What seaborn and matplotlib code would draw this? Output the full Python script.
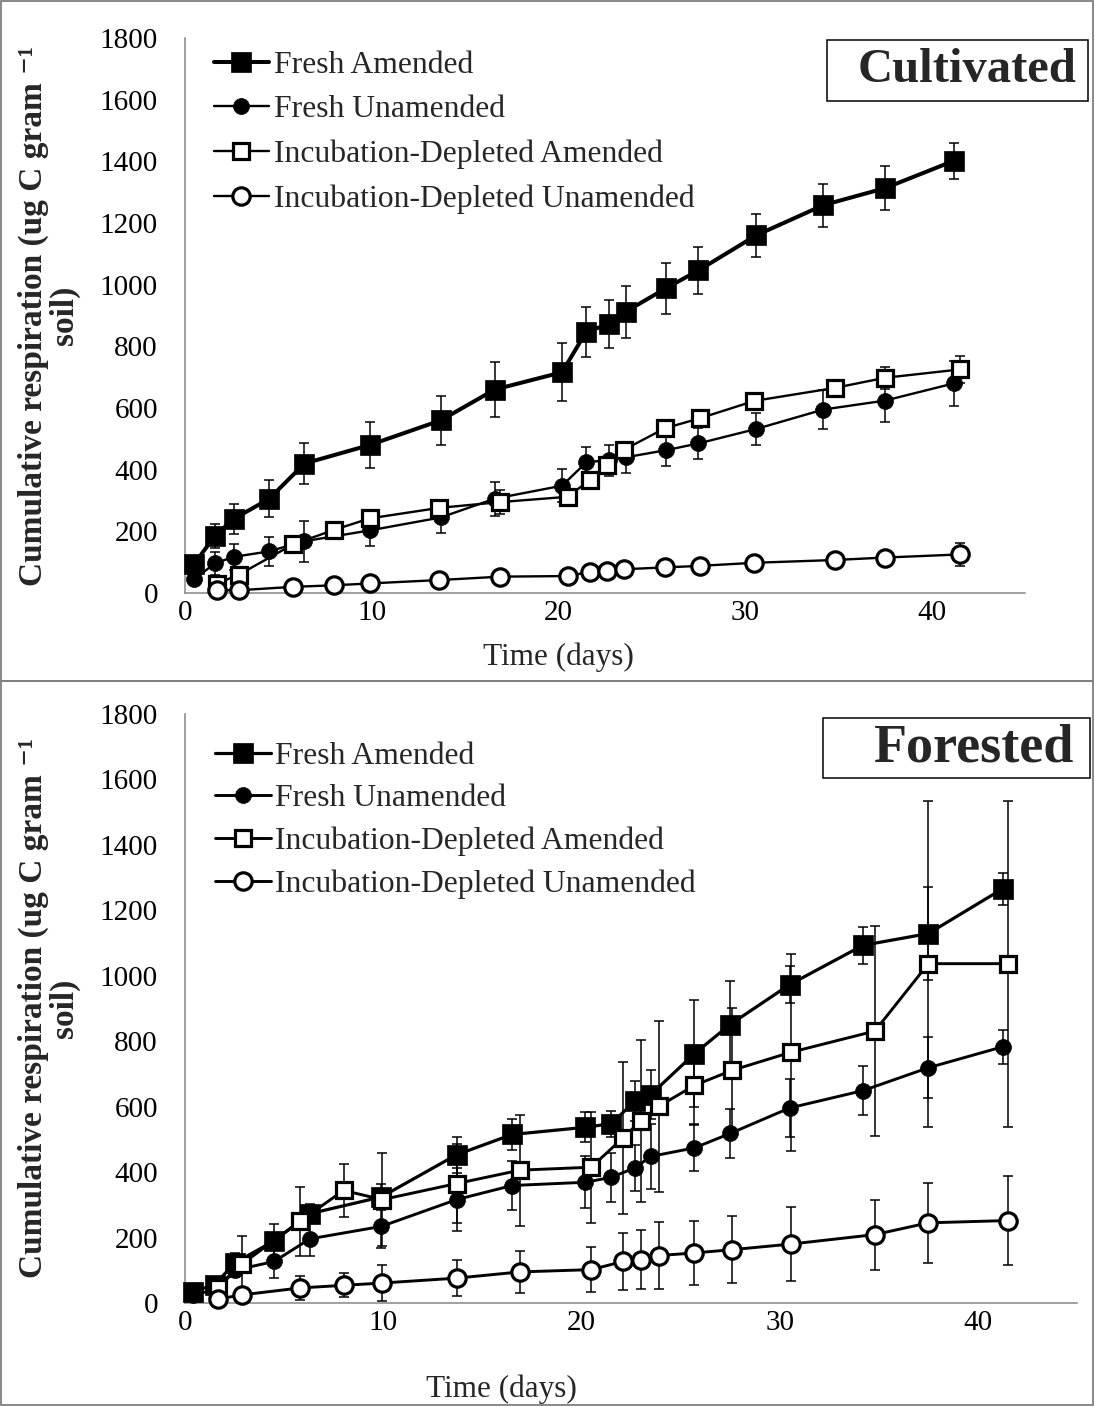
import matplotlib
matplotlib.use("Agg")
import matplotlib.pyplot as plt
from matplotlib.patches import Rectangle
import seaborn as sns

# ---------------- Cultivated soil ----------------
cult_fresh_days = [0.5, 1.6, 2.6, 4.5, 6.4, 9.9, 13.7, 16.6, 20.2, 21.5, 22.7, 23.6,
                   25.75, 27.5, 30.6, 34.2, 37.5, 41.2]
cult_fresh_amended = [95, 185, 240, 305, 420, 480, 560, 660, 716, 848, 871, 912,
                      988, 1046, 1160, 1258, 1313, 1402]
cult_fresh_amended_err = [15, 40, 50, 60, 68, 74, 79, 90, 94, 81, 78, 84,
                          83, 77, 70, 70, 71, 59]
cult_fresh_unamended = [45, 96, 117, 135, 168, 203, 245, 306, 348, 424, 431, 440,
                        463, 485, 532, 595, 624, 680]
cult_fresh_unamended_err = [10, 38, 41, 47, 66, 49, 52, 55, 54, 50, 50, 50,
                            52, 51, 53, 63, 71, 73]

cult_depl_days = [1.7, 2.9, 5.8, 8.0, 9.9, 13.6, 16.9, 20.5, 21.7, 22.6, 23.5,
                  25.7, 27.6, 30.5, 34.8, 37.5, 41.5]
cult_depl_amended = [30, 60, 158, 205, 242, 276, 295, 312, 367, 415, 464,
                     534, 567, 623, 665, 698, 725]
cult_depl_amended_err = [10, 15, 15, 15, 15, 20, 38, 15, 20, 20, 20,
                         15, 15, 15, 20, 36, 44]
cult_depl_unamended = [9, 9, 20, 25, 31, 42, 53, 55, 69, 72, 77,
                       83, 88, 98, 107, 115, 125]
cult_depl_unamended_err = [5, 5, 5, 6, 8, 8, 10, 10, 10, 10, 10,
                           10, 12, 12, 15, 15, 38]

# ---------------- Forested soil ----------------
for_fresh_days = [0.4, 1.5, 2.5, 4.5, 6.3, 9.9, 13.7, 16.5, 20.2, 21.5, 22.7, 23.5,
                  25.7, 27.5, 30.5, 34.2, 37.5, 41.25]
for_fresh_amended = [35, 56, 122, 190, 273, 324, 453, 515, 537, 548, 617, 637,
                     762, 851, 973, 1093, 1129, 1266]
for_fresh_amended_err = [8, 12, 30, 52, 30, 40, 55, 48, 46, 40, 60, 75,
                         163, 132, 56, 57, 142, 49]
for_fresh_unamended = [25, 40, 100, 127, 196, 234, 316, 359, 369, 384, 413, 448,
                       474, 518, 596, 649, 719, 783]
for_fresh_unamended_err = [5, 10, 20, 51, 53, 66, 97, 75, 79, 75, 70, 100,
                           72, 74, 89, 75, 93, 52]

for_depl_days = [1.65, 2.9, 5.8, 8.0, 9.95, 13.7, 16.9, 20.5, 22.1, 23.0, 23.9,
                 25.7, 27.6, 30.55, 34.8, 37.5, 41.5]
for_depl_amended = [46, 120, 250, 344, 316, 365, 406, 415, 505, 557, 601,
                    665, 711, 766, 831, 1037, 1037]
for_depl_amended_err = [15, 86, 105, 80, 141, 120, 170, 170, 233, 247, 262,
                        120, 190, 300, 320, 498, 498]
for_depl_unamended = [12, 25, 46, 54, 61, 76, 95, 102, 127, 132, 145,
                      153, 163, 180, 209, 245, 252]
for_depl_unamended_err = [5, 10, 38, 37, 55, 56, 65, 68, 88, 90, 102,
                          97, 103, 113, 107, 122, 135]

series_names = ["Fresh Amended", "Fresh Unamended",
                "Incubation-Depleted Amended", "Incubation-Depleted Unamended"]
y_ticks = list(range(0, 1801, 200))
x_ticks = [0, 10, 20, 30, 40]
y_label = "Cumulative respiration (ug C gram \u207b\u00b9\nsoil)"

sns.set_theme(style="white")
plt.rcParams["font.family"] = ["Liberation Serif", "DejaVu Serif"]

AXIS_GREY = "#868686"

marker_styles = {
    "Fresh Amended": dict(marker="s", markersize=15, markerfacecolor="black", markeredgewidth=0.5),
    "Fresh Unamended": dict(marker="o", markersize=11.5, markerfacecolor="black", markeredgewidth=0.5),
    "Incubation-Depleted Amended": dict(marker="s", markersize=12, markerfacecolor="white", markeredgewidth=2.3),
    "Incubation-Depleted Unamended": dict(marker="o", markersize=12.5, markerfacecolor="white", markeredgewidth=2.3),
}

fig = plt.figure(figsize=(10.95, 14.06), dpi=100)

W, H = 1095.0, 1406.0


def px_axes(left, top, right, bottom):
    return fig.add_axes([left / W, 1 - bottom / H, (right - left) / W, (bottom - top) / H])


def draw_panel(ax, series, linewidths, legend_anchor, legend_spacing, xlabel_pos, ylabel_pos):
    for i, (name, (days, vals, errs)) in enumerate(zip(series_names, series)):
        ax.errorbar(days, vals, yerr=errs, fmt="none", ecolor="black",
                    elinewidth=1.1, capsize=3.3, capthick=1.1, zorder=2 + i)
        sns.lineplot(x=days, y=vals, ax=ax, color="black", sort=False,
                     linewidth=linewidths[i], markeredgecolor="black",
                     label=name, clip_on=False, zorder=3 + i,
                     **marker_styles[name])
    ax.set_xlim(0, 45)
    ax.set_ylim(0, 1800)
    ax.set_xticks(x_ticks)
    ax.set_yticks(y_ticks)
    for side in ("top", "right"):
        ax.spines[side].set_visible(False)
    for side in ("left", "bottom"):
        ax.spines[side].set_color(AXIS_GREY)
        ax.spines[side].set_linewidth(1.1)
    ax.tick_params(axis="both", direction="out", length=6.5, width=1.1,
                   color=AXIS_GREY, labelsize=21, labelcolor="black")
    ax.tick_params(axis="y", pad=13)
    ax.tick_params(axis="x", pad=-1.5)
    ax.set_xlabel("Time (days)", fontsize=22.5)
    ax.xaxis.set_label_coords(*xlabel_pos)
    ax.set_ylabel(y_label, fontsize=24, fontweight="bold", linespacing=1.0)
    ax.yaxis.set_label_coords(*ylabel_pos)
    ax.legend(loc="upper left", bbox_to_anchor=legend_anchor, frameon=False,
              fontsize=22.8, handlelength=1.75, handletextpad=0.15,
              labelspacing=legend_spacing, borderaxespad=0, borderpad=0)
    ax.grid(False)
    ax.set_facecolor("white")


ax_top = px_axes(185, 38, 1025, 593)
draw_panel(
    ax_top,
    [(cult_fresh_days, cult_fresh_amended, cult_fresh_amended_err),
     (cult_fresh_days, cult_fresh_unamended, cult_fresh_unamended_err),
     (cult_depl_days, cult_depl_amended, cult_depl_amended_err),
     (cult_depl_days, cult_depl_unamended, cult_depl_unamended_err)],
    [2.9, 1.7, 1.7, 1.7],
    (0.034, 0.977), 0.48, (0.445, -0.09), (-0.125, 0.5))

ax_bot = px_axes(185, 714, 1077, 1303)
draw_panel(
    ax_bot,
    [(for_fresh_days, for_fresh_amended, for_fresh_amended_err),
     (for_fresh_days, for_fresh_unamended, for_fresh_unamended_err),
     (for_depl_days, for_depl_amended, for_depl_amended_err),
     (for_depl_days, for_depl_unamended, for_depl_unamended_err)],
    [2.3, 2.1, 2.1, 2.1],
    (0.034, 0.953), 0.42, (0.355, -0.122), (-0.118, 0.5))

# panel frames
for top, bottom in ((1, 681), (681, 1405)):
    fig.add_artist(Rectangle((1 / W, 1 - bottom / H), (W - 3) / W, (bottom - top) / H,
                             transform=fig.transFigure, fill=False,
                             edgecolor="#7f7f7f", linewidth=1.3))

# title boxes
for label, (l, t, r, b), tx, size in (("Cultivated", (827, 40, 1088, 101), 967, 35),
                                      ("Forested", (823, 718, 1090, 778), 973, 39)):
    fig.add_artist(Rectangle((l / W, 1 - b / H), (r - l) / W, (b - t) / H,
                             transform=fig.transFigure, fill=False,
                             edgecolor="black", linewidth=1.1))
    fig.text(tx / W, 1 - ((t + b) / 2) / H, label, fontsize=size, fontweight="bold",
             ha="center", va="center")

fig.savefig("out.png", dpi=100, facecolor="white")
